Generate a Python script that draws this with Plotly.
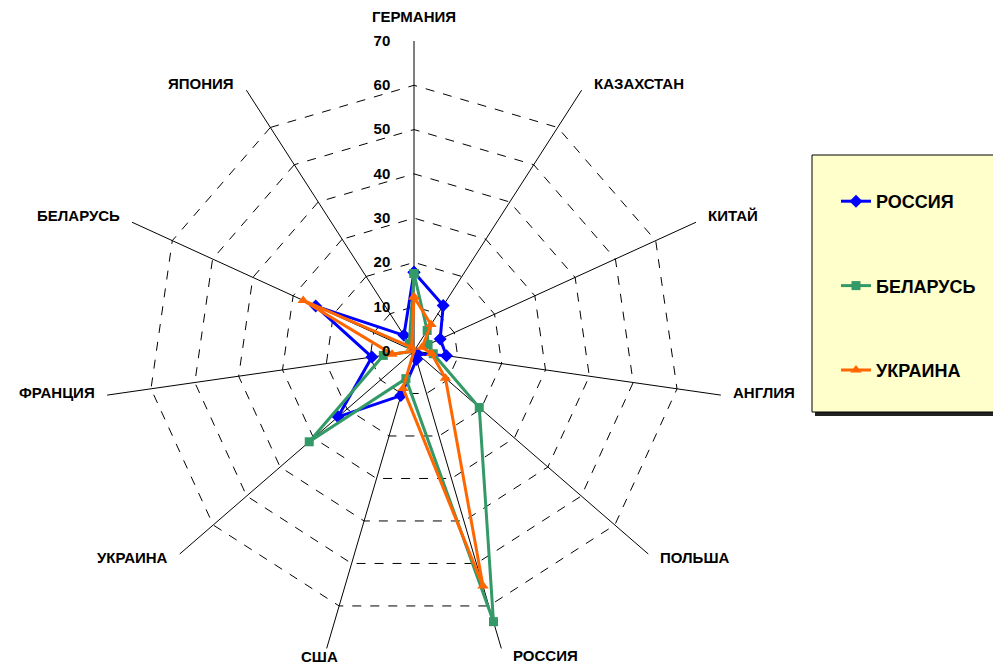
import math
import plotly.graph_objects as go

categories = ["ГЕРМАНИЯ", "КАЗАХСТАН", "КИТАЙ", "АНГЛИЯ", "ПОЛЬША", "РОССИЯ",
              "США", "УКРАИНА", "ФРАНЦИЯ", "БЕЛАРУСЬ", "ЯПОНИЯ"]
russia = [17.8, 12.2, 6.5, 7.4, 1.0, 2.0, 10.5, 22.7, 9.6, 24.4, 4.2]
belarus = [17.5, 5.5, 3.5, 4.4, 19.5, 63.7, 6.5, 31.3, 7.0, 0.0, 2.0]
ukraine = [12.2, 7.1, 2.0, 4.0, 9.4, 55.3, 8.8, 0.0, 5.0, 27.5, 1.0]
radial_ticks = [0, 10, 20, 30, 40, 50, 60, 70]

series = [
    ("РОССИЯ", russia, "#0000FF", "diamond"),
    ("БЕЛАРУСЬ", belarus, "#339966", "square"),
    ("УКРАИНА", ukraine, "#FF6600", "triangle-up"),
]

FONT = "Arial, Liberation Sans, sans-serif"

fig = go.Figure()
for i, (name, vals, color, sym) in enumerate(series):
    fig.add_trace(go.Scatterpolar(
        r=vals + vals[:1],
        theta=categories + categories[:1],
        mode="lines+markers",
        name=name,
        legendgroup=str(i),
        line=dict(color=color, width=3),
        marker=dict(symbol=sym, size=10 if sym != "square" else 9, color=color),
    ))

# page body has an 8px margin, so the figure is 8px smaller and shifted
W, H = 993, 656
cx, cy, R = 406, 343, 310

# category labels placed next to the outer vertices (Excel style)
annotations = []
n = len(categories)
for k, cat in enumerate(categories):
    a = math.radians(360 * k / n)
    s, c = math.sin(a), math.cos(a)
    vx = cx + R * s
    vy = cy - R * c
    if abs(s) < 0.1:
        xanchor, xshift, yshift = "center", 0, 24
    elif c < -0.9 and s < 0:
        xanchor, xshift, yshift = "center", -7, -8
    else:
        xanchor = "left" if s > 0 else "right"
        xshift = 10 if s > 0 else -10
        yshift = 7 if c > 0.3 else (4 - 12 * (-c) if c < 0 else 2)
    annotations.append(dict(
        text=cat, xref="paper", yref="paper",
        x=vx / W, y=1 - vy / H, xanchor=xanchor, yanchor="middle",
        xshift=xshift, yshift=yshift, showarrow=False,
        font=dict(family=FONT, size=15, color="black", weight="bold"),
    ))

fig.update_layout(
    width=W, height=H,
    margin=dict(l=0, r=0, t=0, b=0),
    paper_bgcolor="white",
    plot_bgcolor="white",
    showlegend=True,
    annotations=annotations,
    polar=dict(
        domain=dict(x=[(cx - R) / W, (cx + R) / W],
                    y=[1 - (cy + R) / H, 1 - (cy - R) / H]),
        bgcolor="white",
        gridshape="linear",
        angularaxis=dict(
            direction="clockwise",
            rotation=90,
            showline=False,
            gridcolor="black",
            gridwidth=1,
            ticks="",
            showticklabels=False,
        ),
        radialaxis=dict(
            range=[0, 70],
            tickvals=radial_ticks,
            angle=90,
            tickangle=90,
            side="counterclockwise",
            showline=False,
            gridcolor="black",
            gridwidth=1,
            griddash="dash",
            ticks="outside",
            ticklen=18,
            tickcolor="rgba(0,0,0,0)",
            tickfont=dict(family=FONT, size=15, color="black", weight="bold"),
        ),
    ),
    legend=dict(
        x=828 / W, y=1 - 175 / H,
        xanchor="left", yanchor="top",
        bgcolor="rgba(0,0,0,0)",
        tracegroupgap=58,
        font=dict(family=FONT, size=18, color="black", weight="bold"),
    ),
    shapes=[
        dict(type="rect", xref="paper", yref="paper",
             x0=807 / W, x1=1000 / W, y0=1 - 408 / H, y1=1 - 150 / H,
             fillcolor="#222222", line=dict(width=0), layer="below"),
        dict(type="rect", xref="paper", yref="paper",
             x0=804 / W, x1=998 / W, y0=1 - 404 / H, y1=1 - 147 / H,
             fillcolor="#FFFFCC", line=dict(color="black", width=1), layer="below"),
    ],
)

fig.write_html("out.html")
